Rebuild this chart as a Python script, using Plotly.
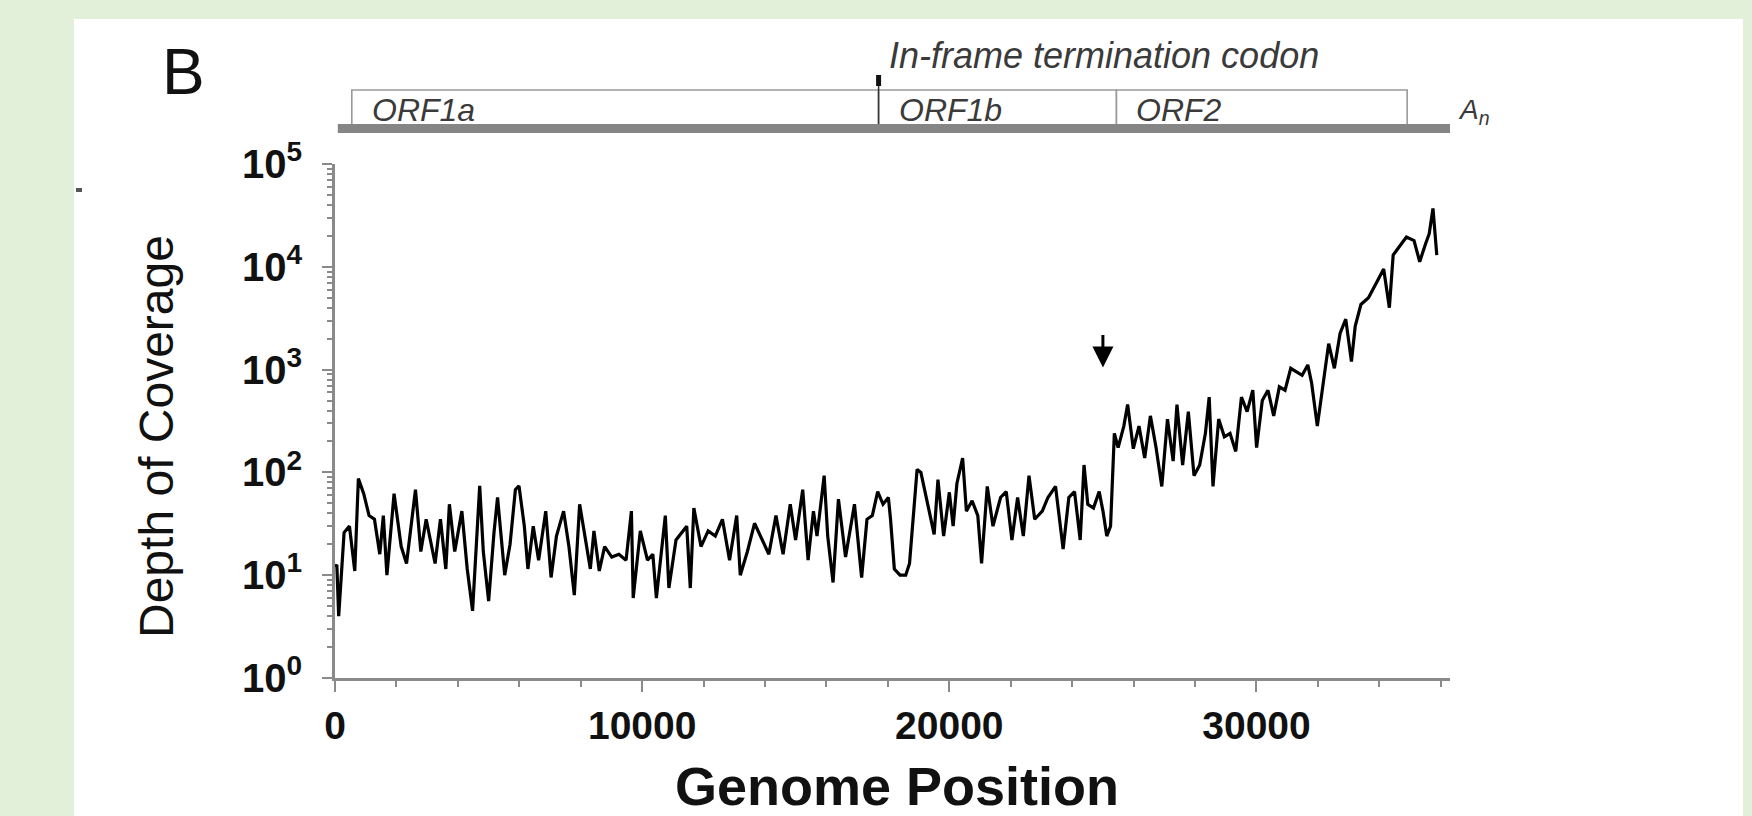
import math
import plotly.graph_objects as go

# ---------------- data ----------------
position = [
    0, 60, 120, 296, 470, 644, 761, 935, 1109, 1284, 1458, 1574, 1690, 1923, 2155,
    2329, 2620, 2794, 2968, 3259, 3433, 3608, 3724, 3898, 4130, 4305, 4479, 4711,
    4828, 5002, 5176, 5292, 5525, 5699, 5873, 5990, 6164, 6280, 6454, 6629, 6861,
    7035, 7210, 7442, 7616, 7791, 7965, 8139, 8313, 8430, 8604, 8778, 9011, 9243,
    9476, 9650, 9708, 9940, 10173, 10347, 10463, 10754, 10870, 11102, 11451, 11567,
    11683, 11916, 12148, 12381, 12613, 12845, 13078, 13194, 13426, 13659, 13891,
    14124, 14356, 14588, 14821, 14995, 15227, 15402, 15576, 15692, 15925, 16041,
    16215, 16390, 16622, 16912, 17145, 17319, 17493, 17668, 17842, 18016,
    18086, 18210, 18395, 18580, 18704, 18951, 19074, 19259, 19506, 19630, 19815,
    20000, 20124, 20247, 20433, 20556, 20741, 20927, 21050, 21235, 21421, 21668,
    21853, 22038, 22223, 22409, 22594, 22779, 23026, 23211, 23458, 23705, 23891,
    24076, 24261, 24385, 24508, 24693, 24879, 25002, 25126, 25249, 25373, 25496,
    25681, 25805, 25990, 26175, 26361, 26546, 26731, 26917, 27102, 27287, 27411,
    27596, 27781, 27966, 28151, 28337, 28460, 28584, 28769, 28954, 29139, 29325,
    29510, 29695, 29880, 30004, 30189, 30374, 30560, 30745, 30930, 31115, 31301,
    31486, 31671, 31795, 31980, 32165, 32350, 32536, 32721, 32906, 33091, 33215,
    33400, 33647, 33894, 34141, 34326, 34450, 34635, 34882, 35129, 35314, 35500,
    35623, 35746, 35870,
]
depth = [
    12, 12.6, 4, 26, 30, 11, 87, 62, 38, 35, 16, 38, 10, 62, 19,
    13, 68, 17, 35, 13, 35, 11.5, 49, 17, 42, 11.5, 4.5, 74,
    17, 5.6, 26, 57, 10, 20, 68, 74, 30, 11.5, 30, 14, 42,
    9.5, 24, 42, 19, 6.4, 49, 24, 11.5, 27, 11, 19, 15, 16,
    14, 42, 6, 27, 14, 16, 6, 38, 7.5, 22, 30, 7.5,
    45, 19, 27, 24, 35, 14, 38, 10, 17, 32, 23,
    16, 38, 16, 49, 22, 68, 14, 42, 24, 93, 24,
    8.5, 55, 15, 49, 9.5, 35, 38, 65, 49, 57,
    35, 11.5, 10, 10, 13, 107, 100, 57, 25, 85, 24,
    64, 30, 78, 138, 42, 53, 38, 13, 73, 30, 57,
    65, 22, 57, 24, 93, 35, 42, 57, 73, 18, 57,
    65, 22, 118, 49, 45, 65, 42, 24, 30, 240, 174,
    282, 457, 170, 282, 138, 355, 174, 73, 330, 129, 457,
    118, 390, 93, 118, 240, 540, 73, 330, 222, 240, 160,
    540, 390, 630, 174, 500, 630, 355, 680, 630, 1030, 950,
    880, 1110, 740, 282, 740, 1790, 1030, 2250, 3100, 1200, 2650,
    4300, 5000, 6900, 9500, 4000, 13000, 15500, 19500, 18000, 11200, 16600,
    21000, 37000, 13000,
]
assert len(position) == len(depth)

# genome map (genome coordinates)
orf_names = ["ORF1a", "ORF1b", "ORF2"]
orf_start = [547, 17697, 25442]
orf_end = [17697, 25442, 34905]
genome_start = 91
genome_end = 36300
stop_codon = 17697
arrow_position = 25000
arrow_depth = 1050

x_tickvals = [0, 10000, 20000, 30000]
x_ticktext = ["0", "10000", "20000", "30000"]
x_minor = [p for p in range(2000, 36001, 2000) if p % 10000 != 0]
y_tickvals = [1, 10, 100, 1000, 10000, 100000]
y_ticktext = ["10<sup>0</sup>", "10<sup>1</sup>", "10<sup>2</sup>",
              "10<sup>3</sup>", "10<sup>4</sup>", "10<sup>5</sup>"]
y_minor = [m * 10 ** k for k in range(5) for m in range(2, 10)]

# ---------------- figure ----------------
FONT = "Liberation Sans, Arial, Helvetica, sans-serif"
AXC = "#8a8a8a"
GREEN = "#e2efd9"

fig = go.Figure()
fig.add_trace(go.Scatter(x=position, y=depth, mode="lines",
                         line=dict(color="black", width=3.2),
                         showlegend=False, hoverinfo="x+y"))

W, H = 1752, 816
L, R, T, B = 335, 302, 164, 138
pw, ph = W - L - R, H - T - B


def px(xpix):
    return (xpix - L) / pw


def py(ypix):
    return (H - B - ypix) / ph


shapes = []
# white panel over the green page
shapes.append(dict(type="rect", xref="paper", yref="paper", layer="below",
                   x0=px(74), x1=px(1743), y0=py(830), y1=py(19),
                   fillcolor="white", line=dict(width=0)))
# small speck at the left
shapes.append(dict(type="rect", xref="paper", yref="paper",
                   x0=px(76), x1=px(82), y0=py(192), y1=py(188),
                   fillcolor="#555555", line=dict(width=0)))
# ORF boxes
for s, e in zip(orf_start, orf_end):
    shapes.append(dict(type="rect", xref="x", yref="paper",
                       x0=s, x1=e, y0=py(125), y1=py(90),
                       fillcolor="white", line=dict(color="#9a9a9a", width=1.6)))
# genome bar
shapes.append(dict(type="line", xref="x", yref="paper",
                   x0=genome_start, x1=genome_end, y0=py(128.5), y1=py(128.5),
                   line=dict(color="#858585", width=9)))
# stop codon marker
shapes.append(dict(type="line", xref="x", yref="paper",
                   x0=stop_codon, x1=stop_codon, y0=py(124), y1=py(82),
                   line=dict(color="#333333", width=1.5)))
shapes.append(dict(type="rect", xref="x", yref="paper", xsizemode="pixel",
                   xanchor=stop_codon, x0=-2.5, x1=2.5, y0=py(86), y1=py(75),
                   fillcolor="#111111", line=dict(width=0)))

annotations = []
annotations.append(dict(text="B", xref="paper", yref="paper", x=px(160), y=py(72),
                        xanchor="left", yanchor="middle", showarrow=False,
                        font=dict(family=FONT, size=64, color="#111111")))
annotations.append(dict(text="In-frame termination codon", xref="paper", yref="paper",
                        x=px(887), y=py(55), xanchor="left", yanchor="middle",
                        showarrow=False,
                        font=dict(family=FONT, size=36, color="#3a3a3a", style="italic")))
for name, s in zip(orf_names, orf_start):
    annotations.append(dict(text=name, xref="x", yref="paper", x=s, xshift=18,
                            y=py(110), xanchor="left", yanchor="middle",
                            showarrow=False,
                            font=dict(family=FONT, size=32, color="#3a3a3a", style="italic")))
annotations.append(dict(text="A<sub>n</sub>", xref="paper", yref="paper",
                        x=px(1456), y=py(112), xanchor="left", yanchor="middle",
                        showarrow=False,
                        font=dict(family=FONT, size=28, color="#3a3a3a", style="italic")))
annotations.append(dict(text="", xref="x", yref="y", x=arrow_position,
                        y=math.log10(arrow_depth), ax=0, ay=-34,
                        showarrow=True, arrowhead=2, arrowsize=1.4,
                        arrowwidth=3, arrowcolor="black"))
annotations.append(dict(text="Depth of Coverage", xref="paper", yref="paper",
                        x=px(156), y=py(436), textangle=-90,
                        xanchor="center", yanchor="middle", showarrow=False,
                        font=dict(family=FONT, size=48, color="#111111")))
annotations.append(dict(text="Genome Position", xref="paper", yref="paper",
                        x=px(897), y=py(786), xanchor="center", yanchor="middle",
                        showarrow=False,
                        font=dict(family=FONT, size=54, color="#111111", weight="bold")))

fig.update_layout(
    width=W, height=H, autosize=False,
    margin=dict(l=L, r=R, t=T, b=B, pad=0),
    paper_bgcolor=GREEN, plot_bgcolor="white",
    shapes=shapes, annotations=annotations, showlegend=False,
    xaxis=dict(range=[0, genome_end], showgrid=False, zeroline=False,
               showline=True, linecolor=AXC, linewidth=3,
               ticks="outside", ticklen=11, tickwidth=2, tickcolor=AXC,
               tickmode="array", tickvals=x_tickvals, ticktext=x_ticktext,
               ticklabelstandoff=0,
               tickfont=dict(family=FONT, size=39, color="#111111", weight="bold"),
               minor=dict(tickmode="array", tickvals=x_minor, ticks="outside",
                          ticklen=6, tickwidth=2, tickcolor=AXC, showgrid=False)),
    yaxis=dict(type="log", range=[0, 5], showgrid=False, zeroline=False,
               showline=True, linecolor=AXC, linewidth=3,
               ticks="outside", ticklen=10, tickwidth=2, tickcolor=AXC,
               tickmode="array", tickvals=y_tickvals, ticktext=y_ticktext,
               ticklabelstandoff=12,
               tickfont=dict(family=FONT, size=40, color="#111111", weight="bold"),
               minor=dict(tickmode="array", tickvals=y_minor, ticks="outside",
                          ticklen=5, tickwidth=1.5, tickcolor=AXC, showgrid=False)),
)

page_css = (
    "document.documentElement.style.margin='0';"
    "document.body.style.margin='0';"
    "document.body.style.overflow='hidden';"
    "document.body.style.background='" + GREEN + "';"
)
fig.write_html("out.html", post_script=page_css,
               config={"displayModeBar": False, "staticPlot": False})
